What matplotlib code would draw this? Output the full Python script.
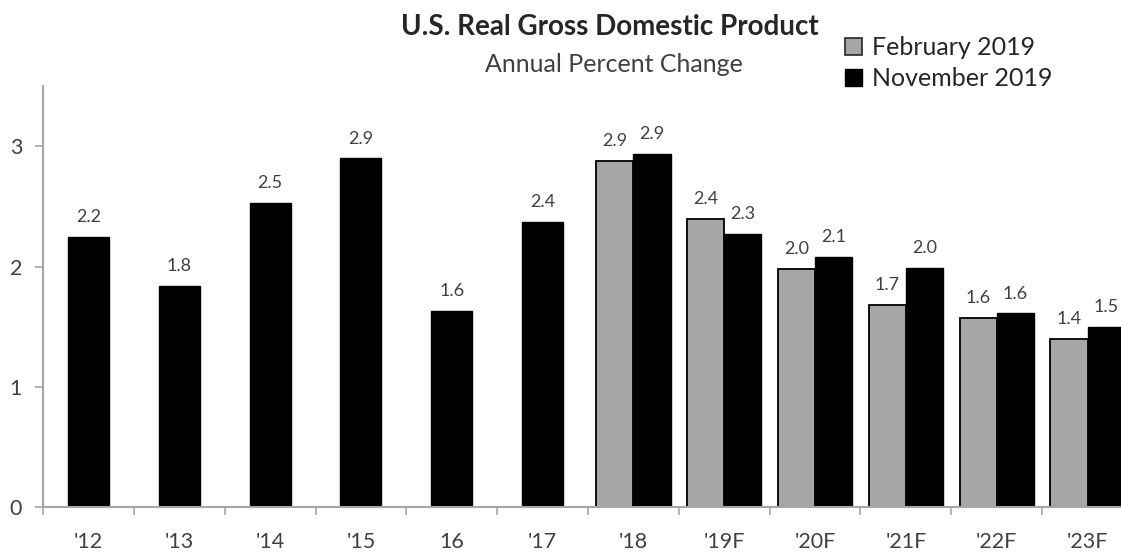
import matplotlib
matplotlib.use("Agg")
import matplotlib.pyplot as plt
from matplotlib.patches import Patch
import numpy as np

plt.rcParams['font.family'] = ['Lato', 'DejaVu Sans']

categories = ["'12", "'13", "'14", "'15", "16", "'17", "'18", "'19F", "'20F", "'21F", "'22F", "'23F"]
# single-series years (only November 2019 bar shown)
single_values = [2.25, 1.84, 2.53, 2.90, 1.63, 2.37]
single_labels = ["2.2", "1.8", "2.5", "2.9", "1.6", "2.4"]
# paired years
feb_2019 = [2.88, 2.40, 1.98, 1.68, 1.57, 1.40]
nov_2019 = [2.94, 2.27, 2.08, 1.99, 1.61, 1.50]
feb_labels = ["2.9", "2.4", "2.0", "1.7", "1.6", "1.4"]
nov_labels = ["2.9", "2.3", "2.1", "2.0", "1.6", "1.5"]

GRAY = "#a6a6a6"
TXT = "#404040"
AX = "#a6a6a6"

fig = plt.figure(figsize=(11.21, 5.52), dpi=100)
ax = fig.add_axes([43/1121, 45/552, 1090/1121, 420.7/552])

n_single = len(single_values)
x_single = np.arange(n_single)
x_pair = np.arange(n_single, len(categories))

w1 = 0.45
ax.bar(x_single, single_values, width=w1, color="black", edgecolor="black", linewidth=1.0)
w2 = 0.41
ax.bar(x_pair - w2/2, feb_2019, width=w2, color=GRAY, edgecolor="black", linewidth=1.3)
ax.bar(x_pair + w2/2, nov_2019, width=w2, color="black", edgecolor="black", linewidth=1.0)

lab_kw = dict(ha="center", va="bottom", fontsize=13, color=TXT, textcoords="offset points")
for x, v, l in zip(x_single, single_values, single_labels):
    ax.annotate(l, (x, v), xytext=(0, 8.5), **lab_kw)
for x, v, l in zip(x_pair - w2/2, feb_2019, feb_labels):
    ax.annotate(l, (x, v), xytext=(0, 8.5), **lab_kw)
for x, v, l in zip(x_pair + w2/2, nov_2019, nov_labels):
    ax.annotate(l, (x, v), xytext=(0, 8.5), **lab_kw)

ax.set_xlim(-0.5, len(categories) - 0.5)
ax.set_ylim(0, 3.5)
ax.set_yticks([0, 1, 2, 3])
ax.set_yticklabels(["0", "1", "2", "3"], fontsize=15.5, color=TXT)
ax.set_xticks(np.arange(len(categories)))
ax.set_xticklabels(categories, fontsize=15.5, color=TXT)
ax.set_xticks(np.arange(len(categories) + 1) - 0.5, minor=True)
ax.tick_params(axis="x", which="major", length=0, pad=18)
ax.tick_params(axis="x", which="minor", length=6, width=1.2, color=AX)
ax.tick_params(axis="y", length=6, width=1.2, color=AX, pad=9)

for s in ["top", "right"]:
    ax.spines[s].set_visible(False)
for s in ["left", "bottom"]:
    ax.spines[s].set_color(AX)
    ax.spines[s].set_linewidth(1.5)

fig.text(610/1121, 1 - 27/552, "U.S. Real Gross Domestic Product", ha="center", va="center",
         fontsize=20, fontweight="bold", color="#262626")
fig.text(614/1121, 1 - 64/552, "Annual Percent Change", ha="center", va="center",
         fontsize=18, color=TXT)

handles = [Patch(facecolor=GRAY, edgecolor="#262626", linewidth=1.2, label="February 2019"),
           Patch(facecolor="black", edgecolor="black", label="November 2019")]
leg = fig.legend(handles=handles, loc="upper left", bbox_to_anchor=(845/1121, 1 - 36/552),
                 frameon=False, fontsize=18, handlelength=0.68, handleheight=0.68,
                 handletextpad=0.4, labelspacing=0.32, borderaxespad=0, borderpad=0)
for t in leg.get_texts():
    t.set_color("#262626")

fig.savefig("out.png", dpi=100)
